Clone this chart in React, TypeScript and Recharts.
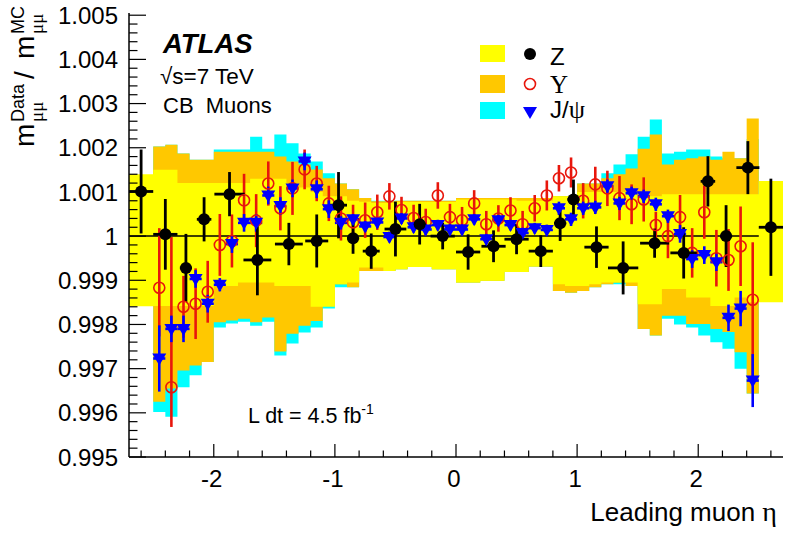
import React from 'react'
import { ComposedChart, Area, Scatter, ErrorBar, XAxis, YAxis, ReferenceLine } from 'recharts'

const SANS = "'Liberation Sans', Arial, Helvetica, sans-serif"
const SERIF = "'Liberation Serif', 'Times New Roman', serif"

// lower edges of the 0.1-wide eta bins used by the systematic bands
const binLow = [-2.5, -2.4, -2.3, -2.2, -2.1, -2.0, -1.9, -1.8, -1.7, -1.6, -1.5, -1.4, -1.3, -1.2, -1.1, -1.0, -0.9, -0.8, -0.7, -0.6, -0.5, -0.4, -0.3, -0.2, -0.1,
  0.0, 0.1, 0.2, 0.3, 0.4, 0.5, 0.6, 0.7, 0.8, 0.9, 1.0, 1.1, 1.2, 1.3, 1.4, 1.5, 1.6, 1.7, 1.8, 1.9, 2.0, 2.1, 2.2, 2.3, 2.4]

// Z band (yellow), plus the two outer wide bins [-2.7,-2.5] and [2.5,2.7]
const zBandHi = [1.0015, 1.0015, 1.0012, 1.0012, 1.0012, 1.0012, 1.0012, 1.0012, 1.0013, 1.0013, 1.0013, 1.0012, 1.0011, 1.001, 1.0009, 1.0009, 1.0008, 1.00078, 1.00075, 1.00075, 1.00077, 1.00077, 1.00077, 1.00077, 1.00077,
  1.00083, 1.00083, 1.00083, 1.00083, 1.00083, 1.0008, 1.0008, 1.0008, 1.0009, 1.0009, 1.001, 1.001, 1.001, 1.001, 1.001, 1.0009, 1.0009, 1.00095, 1.00095, 1.00095, 1.00095, 1.00095, 1.00095, 1.00095, 1.00095]
const zBandLo = [0.99842, 0.99842, 0.99842, 0.99842, 0.99842, 0.99887, 0.99887, 0.99895, 0.99895, 0.99895, 0.99887, 0.99887, 0.99887, 0.9984, 0.9984, 0.99891, 0.99895, 0.99929, 0.99929, 0.99921, 0.99925, 0.9993, 0.9993, 0.99925, 0.99925,
  0.99895, 0.99895, 0.99899, 0.99899, 0.99919, 0.99919, 0.99931, 0.99931, 0.99891, 0.99887, 0.99887, 0.99891, 0.99895, 0.99895, 0.99895, 0.99846, 0.99846, 0.9988, 0.9988, 0.99861, 0.99861, 0.99842, 0.99842, 0.99861, 0.9985]
const zEdgeLeft = [0.99841, 1.0014]
const zEdgeRight = [0.9985, 1.00125]

// Upsilon band (orange)
const uBandHi = [1.00203, 1.00207, 1.00187, 1.00173, 1.00173, 1.00191, 1.00191, 1.00191, 1.00191, 1.00191, 1.0018, 1.00169, 1.00162, 1.00151, 1.00131, 1.00119, 1.00106, 1.00086, 1.00079, 1.00079, 1.0008, 1.0008, 1.0008, 1.0008, 1.0008,
  1.00086, 1.00086, 1.00086, 1.00086, 1.00086, 1.00086, 1.00086, 1.00086, 1.0009, 1.0009, 1.00119, 1.00119, 1.00131, 1.0014, 1.00153, 1.00198, 1.0023, 1.00162, 1.00173, 1.00176, 1.0018, 1.00173, 1.00191, 1.00176, 1.00266]
const uBandLo = [0.99625, 0.99655, 0.99696, 0.99707, 0.99715, 0.99805, 0.99809, 0.99813, 0.99805, 0.99816, 0.99739, 0.99779, 0.99797, 0.99808, 0.99842, 0.99891, 0.99884, 0.99921, 0.99921, 0.99921, 0.99925, 0.9993, 0.9993, 0.99925, 0.99925,
  0.99895, 0.99895, 0.99899, 0.99899, 0.99919, 0.99919, 0.99931, 0.99931, 0.99876, 0.99872, 0.99876, 0.99884, 0.99891, 0.99895, 0.99887, 0.9979, 0.99775, 0.9982, 0.9982, 0.99801, 0.99801, 0.9979, 0.99783, 0.99737, 0.99644]

// J/psi band (cyan)
const jBandHi = [1.00203, 1.00207, 1.00187, 1.00173, 1.00173, 1.00196, 1.00196, 1.00196, 1.00225, 1.00198, 1.0023, 1.0021, 1.00187, 1.00169, 1.00142, 1.00119, 1.00106, 1.00086, 1.0008, 1.0008, 1.0008, 1.0008, 1.0008, 1.0008, 1.0008,
  1.00086, 1.00086, 1.00086, 1.00086, 1.00086, 1.00086, 1.00086, 1.00086, 1.0009, 1.0009, 1.00119, 1.00119, 1.00142, 1.00162, 1.00185, 1.00225, 1.00264, 1.00187, 1.00191, 1.00196, 1.00196, 1.0018, 1.00176, 1.00176, 1.0022]
const jBandLo = [0.99602, 0.99591, 0.99658, 0.99685, 0.99715, 0.99793, 0.99802, 0.99806, 0.99797, 0.99806, 0.9973, 0.99757, 0.99782, 0.99793, 0.99836, 0.99884, 0.99884, 0.99921, 0.99921, 0.99921, 0.99925, 0.9993, 0.9993, 0.99925, 0.99925,
  0.99895, 0.99895, 0.99899, 0.99899, 0.99919, 0.99919, 0.99931, 0.99931, 0.99876, 0.99872, 0.99876, 0.99884, 0.99891, 0.99891, 0.99887, 0.9979, 0.99775, 0.99813, 0.998, 0.99793, 0.99775, 0.9976, 0.99745, 0.997, 0.99644]

// Z -> mu mu points
const zEta = [-2.6, -2.4, -2.23, -2.08, -1.87, -1.64, -1.38, -1.15, -0.97, -0.85, -0.7, -0.5, -0.3, -0.11, 0.1, 0.31, 0.5, 0.7, 0.86, 0.97, 1.16, 1.38, 1.64, 1.88, 2.08, 2.23, 2.41, 2.6]
const zVal = [1.00101, 1.00004, 0.99928, 1.00038, 1.00095, 0.99946, 0.99982, 0.99989, 1.0007, 0.99995, 0.99966, 1.00016, 1.00027, 1.0, 0.99964, 0.99977, 0.99993, 0.99966, 1.00029, 1.00083, 0.99975, 0.99928, 0.99984, 0.99962, 1.00124, 1.0, 1.00155, 1.0002]
const zErr = [0.00095, 0.0008, 0.00077, 0.0005, 0.0005, 0.0008, 0.00048, 0.0006, 0.00075, 0.00035, 0.0004, 0.00062, 0.00046, 0.0003, 0.0004, 0.00036, 0.00034, 0.00036, 0.0004, 0.00045, 0.00047, 0.0006, 0.00033, 0.00058, 0.00057, 0.0007, 0.0006, 0.0011]
const zHalfWidth = [0.1, 0.1, 0.05, 0.06, 0.125, 0.115, 0.115, 0.095, 0.07, 0.05, 0.07, 0.09, 0.05, 0.1, 0.1, 0.1, 0.1, 0.1, 0.05, 0.05, 0.1, 0.125, 0.12, 0.11, 0.06, 0.05, 0.095, 0.1]

// Upsilon and J/psi points, one per 0.1 bin
const binCentre = [-2.45, -2.35, -2.25, -2.15, -2.05, -1.95, -1.85, -1.75, -1.65, -1.55, -1.45, -1.35, -1.25, -1.15, -1.05, -0.95, -0.85, -0.75, -0.65, -0.55, -0.45, -0.35, -0.25, -0.15, -0.05,
  0.05, 0.15, 0.25, 0.35, 0.45, 0.55, 0.65, 0.75, 0.85, 0.95, 1.05, 1.15, 1.25, 1.35, 1.45, 1.55, 1.65, 1.75, 1.85, 1.95, 2.05, 2.15, 2.25, 2.35, 2.45]
const upsVal = [0.99883, 0.99658, 0.9984, 0.99847, 0.99874, 0.9998, 0.99989, 1.00081, 1.00035, 1.00119, 1.00063, 1.00108, 1.00151, 1.00119, 1.00074, 1.0004, 1.00031, 1.00036, 1.00054, 1.0009, 1.00059, 1.00041, 1.00032, 1.00092, 1.00043,
  1.00036, 1.00074, 1.00027, 1.0004, 1.00058, 1.00027, 1.00063, 1.00092, 1.00131, 1.00144, 1.0008, 1.00117, 1.00108, 1.00086, 1.00072, 1.00083, 1.00025, 1.0, 1.00043, 0.99962, 1.00054, 0.9995, 0.99946, 0.99977, 0.99856]
const upsErrLo = [0.0011, 0.0009, 0.0007, 0.0008, 0.0007, 0.0007, 0.0006, 0.0006, 0.0006, 0.0005, 0.0005, 0.0006, 0.00045, 0.0004, 0.0004, 0.0005, 0.0004, 0.0004, 0.0004, 0.0003, 0.0003, 0.0003, 0.0003, 0.0003, 0.0003,
  0.0003, 0.0003, 0.0003, 0.0003, 0.0003, 0.0003, 0.0003, 0.00034, 0.0003, 0.00034, 0.0004, 0.0004, 0.0004, 0.0005, 0.00045, 0.0005, 0.0003, 0.0005, 0.0005, 0.00056, 0.0006, 0.00064, 0.0007, 0.0009, 0.0018]
const upsErrHi = [0.00135, 0.0034, 0.0007, 0.0008, 0.0007, 0.0007, 0.0006, 0.0006, 0.0006, 0.0005, 0.0005, 0.0006, 0.00045, 0.0004, 0.0004, 0.0005, 0.0004, 0.0004, 0.0004, 0.0003, 0.0003, 0.0003, 0.0003, 0.0003, 0.0003,
  0.0003, 0.0003, 0.0003, 0.0003, 0.0003, 0.0003, 0.0003, 0.00034, 0.0003, 0.00034, 0.0004, 0.0004, 0.0004, 0.0005, 0.00045, 0.0005, 0.0003, 0.0005, 0.0005, 0.00056, 0.0006, 0.00064, 0.0007, 0.0009, 0.0013]
const jpsiVal = [0.99723, 0.9979, 0.9979, 0.99903, 0.99847, 0.9989, 0.99982, 1.0003, 1.0003, 1.00092, 1.00068, 1.00108, 1.00169, 1.00106, 1.00061, 1.0003, 1.00038, 1.00022, 1.00031, 0.99998, 1.0004, 1.0002, 1.00015, 1.00025, 1.00015,
  1.00015, 1.00038, 0.99993, 1.00036, 1.00025, 1.00007, 1.00018, 1.00014, 1.00063, 1.00038, 1.00063, 1.00065, 1.00113, 1.00074, 1.00097, 1.0009, 1.00072, 1.00045, 1.00005, 0.99948, 0.99957, 0.99941, 0.99815, 0.99836, 0.99673]
const jpsiErr = [0.00075, 0.0003, 0.0003, 0.0002, 0.0002, 0.00015, 0.0002, 0.0002, 0.0002, 0.0002, 0.0002, 0.0002, 0.0002, 0.0002, 0.0002, 0.00015, 0.00012, 0.00012, 0.00012, 0.00012, 0.00012, 0.00012, 0.00012, 0.00012, 0.00012,
  0.00012, 0.00012, 0.00012, 0.00012, 0.00012, 0.00012, 0.00012, 0.00012, 0.00015, 0.00015, 0.00015, 0.00015, 0.00015, 0.00015, 0.00015, 0.00015, 0.00015, 0.00015, 0.0002, 0.0002, 0.0002, 0.0002, 0.0003, 0.0004, 0.0006]

const xMajorTicks = [-2, -1, 0, 1, 2]
const yMajorTicks = [0.995, 0.996, 0.997, 0.998, 0.999, 1, 1.001, 1.002, 1.003, 1.004, 1.005]

// minor ticks every 0.2 in eta and every 0.0002 in the ratio
const xTicks: number[] = []
for (let i = -13; i <= 13; i++) xTicks.push(Math.round(i * 0.2 * 10) / 10)
const yTicks: number[] = []
for (let i = 0; i <= 50; i++) yTicks.push(Math.round((0.995 + i * 0.0002) * 1e5) / 1e5)

const NONE = [null, null]
const bandRows = [
  { x: -2.7, zb: zEdgeLeft, ub: NONE, jb: NONE },
  ...binLow.map((x, i) => ({ x, zb: [zBandLo[i], zBandHi[i]], ub: [uBandLo[i], uBandHi[i]], jb: [jBandLo[i], jBandHi[i]] })),
  { x: 2.5, zb: zEdgeRight, ub: [uBandLo[49], uBandHi[49]], jb: [jBandLo[49], jBandHi[49]] },
  { x: 2.7, zb: zEdgeRight, ub: NONE, jb: NONE },
]

const zPoints = zEta.map((x, i) => ({ x, v: zVal[i], ev: zErr[i], ex: zHalfWidth[i] }))
const upsPoints = binCentre.map((x, i) => ({ x, v: upsVal[i], ev: [upsErrLo[i], upsErrHi[i]] }))
const jpsiPoints = binCentre.map((x, i) => ({ x, v: jpsiVal[i], ev: jpsiErr[i], ex: 0.05 }))

const near = (a: number, b: number) => Math.abs(a - b) < 1e-7
const isMajorX = (v: number) => xMajorTicks.some((t) => near(t, v))
const isMajorY = (v: number) => yMajorTicks.some((t) => near(t, v))
const yLabel = (v: number) => (near(v, 1) ? '1' : v.toFixed(3))

function LeftTick(p: any) {
  const v = p.payload.value
  const major = isMajorY(v)
  return (
    <g>
      <line x1={p.x} x2={p.x + (major ? 17 : 8.5)} y1={p.y} y2={p.y} stroke='#000' strokeWidth={1.2} />
      {major && (
        <text x={p.x - 11} y={p.y} dy='0.36em' textAnchor='end' fontSize={24} fontFamily={SANS} fill='#000'>
          {yLabel(v)}
        </text>
      )}
    </g>
  )
}

function RightTick(p: any) {
  const major = isMajorY(p.payload.value)
  return <line x1={p.x} x2={p.x - (major ? 17 : 8.5)} y1={p.y} y2={p.y} stroke='#000' strokeWidth={1.2} />
}

function BottomTick(p: any) {
  const v = p.payload.value
  const major = isMajorX(v)
  return (
    <g>
      <line x1={p.x} x2={p.x} y1={p.y} y2={p.y - (major ? 13 : 6.5)} stroke='#000' strokeWidth={1.2} />
      {major && (
        <text x={p.x - 2} y={p.y + 30} textAnchor='middle' fontSize={24} fontFamily={SANS} fill='#000'>
          {String(v)}
        </text>
      )}
    </g>
  )
}

function TopTick(p: any) {
  const major = isMajorX(p.payload.value)
  return <line x1={p.x} x2={p.x} y1={p.y} y2={p.y + (major ? 13 : 6.5)} stroke='#000' strokeWidth={1.2} />
}

const zDot = (p: any) => <circle cx={p.cx} cy={p.cy} r={6} fill='#000' />
const upsRing = (p: any) => <circle cx={p.cx} cy={p.cy} r={5.5} fill='none' stroke='#e8160c' strokeWidth={1.6} />
const jpsiTri = (p: any) => (
  <polygon points={`${p.cx - 7},${p.cy - 5} ${p.cx + 7},${p.cy - 5} ${p.cx},${p.cy + 7}`} fill='#0000ff' />
)

const frame = { stroke: '#000', strokeWidth: 1.5 }

export default function App() {
  return (
    <div style={{ position: 'absolute', left: 0, top: 0, width: 786, height: 533, background: '#fff', fontFamily: SANS }}>
      <ComposedChart width={786} height={533} data={bandRows} margin={{ top: 13, right: 3, bottom: 0, left: 0 }}>
        <XAxis dataKey='x' type='number' domain={[-2.7, 2.7]} allowDataOverflow ticks={xTicks} interval={0}
          height={76} tickSize={0} tickMargin={0} tickLine={false} axisLine={frame} tick={BottomTick} />
        <XAxis xAxisId='top' orientation='top' dataKey='x' type='number' domain={[-2.7, 2.7]} allowDataOverflow ticks={xTicks}
          interval={0} height={0} tickSize={0} tickMargin={0} tickLine={false} axisLine={frame} tick={TopTick} />
        <YAxis type='number' domain={[0.995, 1.00505]} allowDataOverflow ticks={yTicks} interval={0}
          width={129} tickSize={0} tickMargin={0} tickLine={false} axisLine={frame} tick={LeftTick} />
        <YAxis yAxisId='right' orientation='right' type='number' domain={[0.995, 1.00505]} allowDataOverflow ticks={yTicks}
          interval={0} width={0} tickSize={0} tickMargin={0} tickLine={false} axisLine={frame} tick={RightTick} />

        <Area type='stepAfter' dataKey='jb' stroke='none' fill='#00ffff' fillOpacity={1} dot={false} activeDot={false} isAnimationActive={false} />
        <Area type='stepAfter' dataKey='ub' stroke='none' fill='#ffc800' fillOpacity={1} dot={false} activeDot={false} isAnimationActive={false} />
        <Area type='stepAfter' dataKey='zb' stroke='none' fill='#ffff00' fillOpacity={1} dot={false} activeDot={false} isAnimationActive={false} />

        <ReferenceLine segment={[{ x: -2.7, y: 1 }, { x: 2.5, y: 1 }]} stroke='#000' strokeWidth={1.5} />

        <Scatter data={upsPoints} dataKey='v' shape={upsRing} isAnimationActive={false}>
          <ErrorBar dataKey='ev' direction='y' width={0} stroke='#e8160c' strokeWidth={2.6} isAnimationActive={false} />
        </Scatter>
        <Scatter data={jpsiPoints} dataKey='v' shape={jpsiTri} isAnimationActive={false}>
          <ErrorBar dataKey='ev' direction='y' width={0} stroke='#0000ff' strokeWidth={2.6} isAnimationActive={false} />
          <ErrorBar dataKey='ex' direction='x' width={0} stroke='#0000ff' strokeWidth={2.6} isAnimationActive={false} />
        </Scatter>
        <Scatter data={zPoints} dataKey='v' shape={zDot} isAnimationActive={false}>
          <ErrorBar dataKey='ev' direction='y' width={0} stroke='#000' strokeWidth={2.8} isAnimationActive={false} />
          <ErrorBar dataKey='ex' direction='x' width={0} stroke='#000' strokeWidth={2.8} isAnimationActive={false} />
        </Scatter>
      </ComposedChart>

      <svg width={786} height={533} style={{ position: 'absolute', left: 0, top: 0, pointerEvents: 'none' }} fontFamily={SANS}>
        <text x={163} y={53} fontSize={27.5} fontWeight='bold' fontStyle='italic'>ATLAS</text>
        <text x={160} y={84} fontSize={22.5}>√s=7 TeV</text>
        <text x={163} y={113} fontSize={22} style={{ whiteSpace: 'pre' }}>CB  Muons</text>
        <text x={248} y={423} fontSize={21.5}>
          L dt = 4.5 fb<tspan dy={-9} fontSize={14}>-1</tspan>
        </text>

        <rect x={480} y={45} width={25} height={17} fill='#ffff00' />
        <circle cx={530} cy={54} r={6} fill='#000' />
        <text x={550} y={65} fontSize={24}>Z</text>
        <rect x={480} y={75} width={25} height={18} fill='#ffc800' />
        <circle cx={530} cy={84} r={5.5} fill='none' stroke='#e8160c' strokeWidth={1.6} />
        <text x={550} y={93} fontSize={25} fontFamily={SERIF}>Υ</text>
        <rect x={480} y={102} width={25} height={17} fill='#00ffff' />
        <polygon points='523,107 537,107 530,119' fill='#0000ff' />
        <text x={550} y={118} fontSize={24}>J/<tspan fontFamily={SERIF} fontSize={26}>ψ</tspan></text>

        <text x={777} y={521} textAnchor='end' fontSize={26}>
          Leading muon <tspan fontFamily={SERIF} fontSize={28}>η</tspan>
        </text>

        <g transform='translate(34,147) rotate(-90)'>
          <text x={0} y={0} fontSize={28}>m</text>
          <text x={25} y={9} fontSize={19} fontFamily={SERIF}>μμ</text>
          <text x={25} y={-10} fontSize={18}>Data</text>
          <text x={68} y={0} fontSize={28}>/</text>
          <text x={88} y={0} fontSize={28}>m</text>
          <text x={113} y={9} fontSize={19} fontFamily={SERIF}>μμ</text>
          <text x={113} y={-10} fontSize={18}>MC</text>
        </g>
      </svg>
    </div>
  )
}
